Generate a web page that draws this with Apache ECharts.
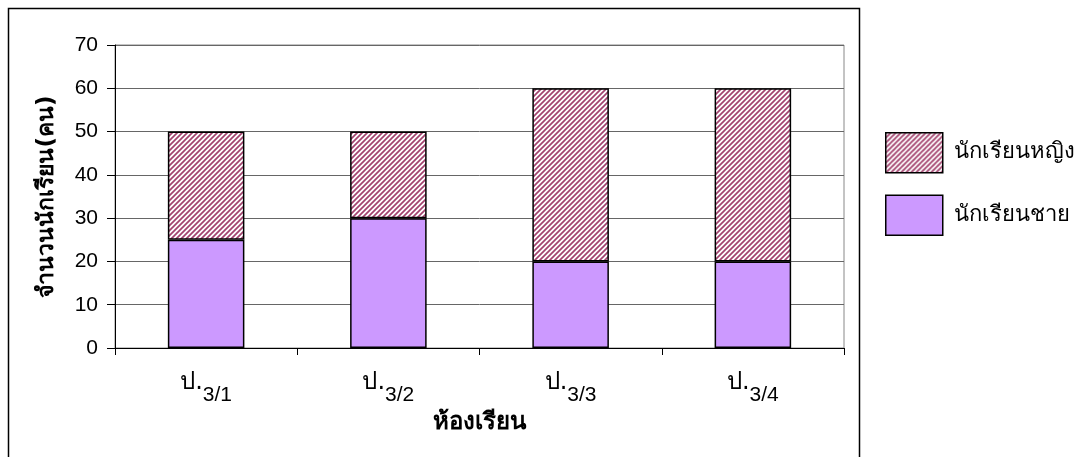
<!DOCTYPE html>
<html>
<head>
<meta charset="utf-8">
<script src="https://cdn.jsdelivr.net/npm/echarts@6/dist/echarts.min.js"></script>
<style>
html, body { margin: 0; padding: 0; background: #fff; }
#main { width: 1079px; height: 457px; }
</style>
</head>
<body>
<div id="main"></div>
<script>
var rooms = ['3/1', '3/2', '3/3', '3/4'];
var boys = [25, 30, 20, 20];
var girls = [25, 20, 40, 40];
var seriesNames = ['นักเรียนหญิง', 'นักเรียนชาย'];

// hatched fill for the girls series
function makeHatch() {
    var c = document.createElement('canvas');
    c.width = 5;
    c.height = 5;
    var ctx = c.getContext('2d');
    ctx.fillStyle = '#ffffff';
    ctx.fillRect(0, 0, 5, 5);
    ctx.strokeStyle = '#a3436f';
    ctx.lineWidth = 1.7;
    ctx.beginPath();
    ctx.moveTo(-1, 6); ctx.lineTo(6, -1);
    ctx.moveTo(-4, 4); ctx.lineTo(4, -4);
    ctx.moveTo(1, 9); ctx.lineTo(9, 1);
    ctx.stroke();
    return c;
}

var font = 'Tahoma, "DejaVu Sans", sans-serif';
var numFont = '"Liberation Sans", Arial, sans-serif';
var chart = echarts.init(document.getElementById('main'));

var option = {
    animation: false,
    grid: {
        left: 115, right: 235, top: 45, bottom: 109,
        show: true, borderColor: '#888', borderWidth: 1
    },
    graphic: [{
        type: 'rect',
        shape: {x: 8.5, y: 8.5, width: 851, height: 460},
        style: {fill: 'none', stroke: '#000', lineWidth: 1.5},
        silent: true
    }],
    legend: {
        orient: 'vertical',
        left: 880, top: 127,
        itemWidth: 57, itemHeight: 40,
        itemGap: 21,
        icon: 'rect',
        data: seriesNames,
        textStyle: {fontFamily: font, fontSize: 22, color: '#000', padding: [0, 0, 0, 6]},
        itemStyle: {borderColor: '#000', borderWidth: 1.5}
    },
    xAxis: {
        type: 'category',
        data: rooms,
        name: 'ห้องเรียน',
        nameLocation: 'middle',
        nameGap: 62,
        nameTextStyle: {fontFamily: font, fontSize: 24, fontWeight: 'bold', color: '#000'},
        axisLine: {lineStyle: {color: '#000', width: 1}},
        axisTick: {show: true, length: 7, lineStyle: {color: '#000'}},
        axisLabel: {
            margin: 23,
            formatter: function (v) { return '{a|ป.}{s|' + v + '}'; },
            rich: {
                a: {fontFamily: font, fontSize: 24, color: '#000', verticalAlign: 'top'},
                s: {fontFamily: numFont, fontSize: 21, color: '#000', padding: [14, 0, 0, 0]}
            }
        }
    },
    yAxis: {
        type: 'value',
        min: 0, max: 70, interval: 10,
        name: 'จำนวนนักเรียน(คน)',
        nameLocation: 'middle',
        nameGap: 56,
        nameTextStyle: {fontFamily: font, fontSize: 23, fontWeight: 'bold', color: '#000'},
        axisLine: {show: true, lineStyle: {color: '#000', width: 1}},
        axisTick: {show: true, length: 8, lineStyle: {color: '#000'}},
        axisLabel: {fontFamily: numFont, fontSize: 21, color: '#000', margin: 17},
        splitLine: {lineStyle: {color: '#666', width: 1}}
    },
    series: [
        {
            name: seriesNames[1],
            type: 'bar',
            stack: 'all',
            barWidth: '42%',
            data: boys,
            itemStyle: {color: '#cc99ff', borderColor: '#000', borderWidth: 1.5}
        },
        {
            name: seriesNames[0],
            type: 'bar',
            stack: 'all',
            barWidth: '42%',
            data: girls,
            itemStyle: {color: {image: makeHatch(), repeat: 'repeat'}, borderColor: '#000', borderWidth: 1.5}
        }
    ]
};

chart.setOption(option);
window.addEventListener('resize', function () {
    chart.resize();
});
</script>
</body>
</html>
